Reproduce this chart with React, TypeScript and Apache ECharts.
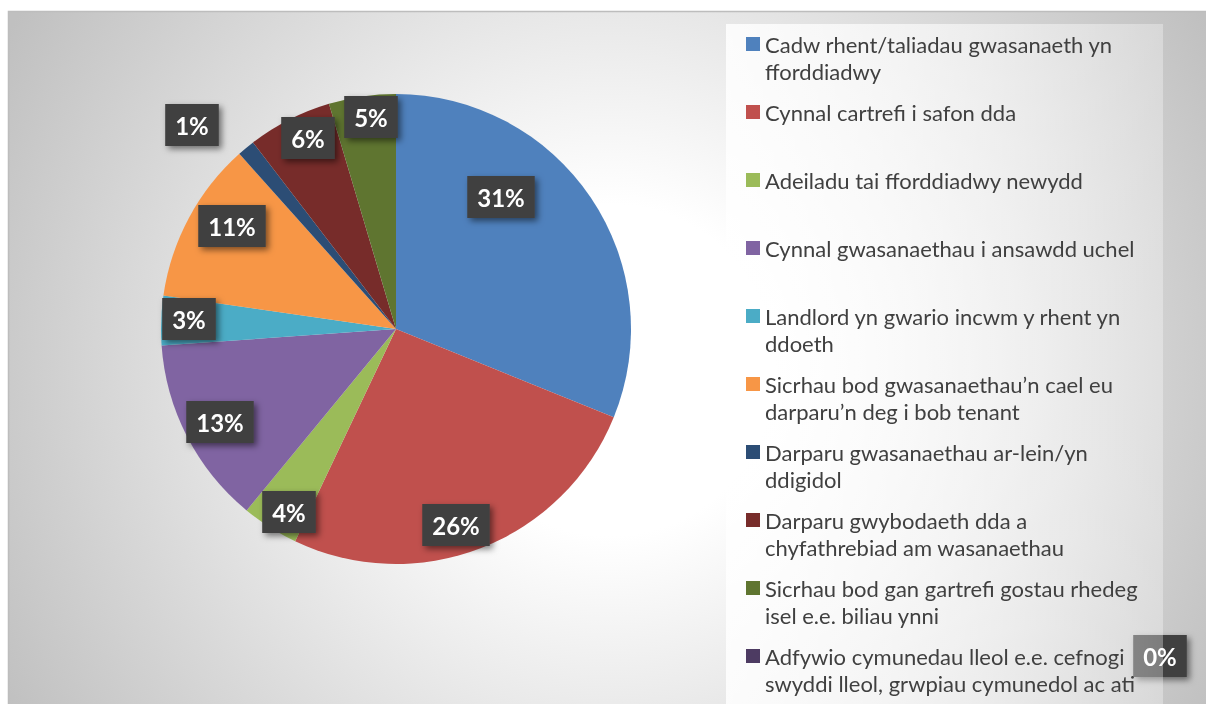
import React, { useEffect, useRef } from "react";
import * as echarts from "echarts";

const categories = [
  "Cadw rhent/taliadau gwasanaeth yn fforddiadwy",
  "Cynnal cartrefi i safon dda",
  "Adeiladu tai fforddiadwy newydd",
  "Cynnal gwasanaethau i ansawdd uchel",
  "Landlord yn gwario incwm y rhent yn ddoeth",
  "Sicrhau bod gwasanaethau’n cael eu darparu’n deg i bob tenant",
  "Darparu gwasanaethau ar-lein/yn ddigidol",
  "Darparu gwybodaeth dda a chyfathrebiad am wasanaethau",
  "Sicrhau bod gan gartrefi gostau rhedeg isel e.e. biliau ynni",
  "Adfywio cymunedau lleol e.e. cefnogi swyddi lleol, grwpiau cymunedol ac ati",
];

const values = [31.1, 25.9, 3.9, 12.9, 3.4, 11.1, 1.2, 5.8, 4.6, 0];

const legendLines = [
  ["Cadw rhent/taliadau gwasanaeth yn", "fforddiadwy"],
  ["Cynnal cartrefi i safon dda", " "],
  ["Adeiladu tai fforddiadwy newydd", " "],
  ["Cynnal gwasanaethau i ansawdd uchel", " "],
  ["Landlord yn gwario incwm y rhent yn", "ddoeth"],
  ["Sicrhau bod gwasanaethau’n cael eu", "darparu’n deg i bob tenant"],
  ["Darparu gwasanaethau ar-lein/yn", "ddigidol"],
  ["Darparu gwybodaeth dda a", "chyfathrebiad am wasanaethau"],
  ["Sicrhau bod gan gartrefi gostau rhedeg", "isel e.e. biliau ynni"],
  ["Adfywio cymunedau lleol e.e. cefnogi", "swyddi lleol, grwpiau cymunedol ac ati"],
];

const colors = [
  "#4F81BD",
  "#C0504D",
  "#9BBB59",
  "#8064A2",
  "#4BACC6",
  "#F79646",
  "#2C4D75",
  "#772C2A",
  "#5F7530",
  "#4D3B62",
];

// label box centres (layout styling)
const labelCenters = [
  [501, 197],
  [456, 525],
  [289, 512],
  [220, 422],
  [189, 319],
  [232, 226],
  [192, 125],
  [308, 138],
  [371, 117],
  [1160, 656],
];

export default function App() {
  const ref = useRef<HTMLDivElement>(null);

  useEffect(() => {
    if (!ref.current) return;
    const chart = echarts.init(ref.current, null, { renderer: "svg" });
    const option: any = {
      animation: false,
      color: colors,
      graphic: {
        elements: [
          {
            type: "rect",
            z: 0,
            silent: true,
            shape: { x: 8.5, y: 11.5, width: 1210, height: 700 },
            style: {
              fill: new echarts.graphic.RadialGradient(
                610,
                370,
                690,
                [
                  { offset: 0, color: "#ffffff" },
                  { offset: 0.24, color: "#ffffff" },
                  { offset: 1, color: "#c0c0c0" },
                ],
                true
              ),
              stroke: "#bdbdbd",
              lineWidth: 1.5,
            },
          },
          {
            type: "rect",
            z: 3,
            silent: true,
            shape: { x: 726, y: 24, width: 437, height: 690 },
            style: {
              fill: new echarts.graphic.LinearGradient(0, 0, 1, 0, [
                { offset: 0, color: "rgba(255,255,255,0.85)" },
                { offset: 1, color: "rgba(255,255,255,0.32)" },
              ]),
            },
          },
        ],
      },
      legend: {
        orient: "vertical",
        left: 746,
        top: 30.5,
        padding: 0,
        z: 4,
        itemGap: 14,
        itemWidth: 14,
        itemHeight: 41,
        selectedMode: false,
        icon: "path://M0,0 L14,0 L14,14 L0,14 Z M0,41 L0.01,41",
        itemStyle: { borderWidth: 0 },
        data: categories,
        formatter: (name: string) => {
          const i = categories.indexOf(name);
          return legendLines[i].join("\n");
        },
        textStyle: {
          fontFamily: "Lato",
          fontSize: 22,
          lineHeight: 27,
          color: "#404040",
        },
      },
      series: [
        {
          type: "pie",
          z: 2,
          center: [396, 329],
          radius: 235,
          startAngle: 90,
          clockwise: true,
          silent: true,
          avoidLabelOverlap: false,
          emphasis: { disabled: true },
          itemStyle: { borderWidth: 0 },
          data: categories.map((n, i) => ({ name: n, value: values[i] })),
          label: {
            show: true,
            position: "inside",
            formatter: (p: any) => Math.round(p.percent) + "%",
            color: "#ffffff",
            fontFamily: "Lato",
            fontWeight: "bold",
            fontSize: 24,
            lineHeight: 24,
            backgroundColor: "#404040",
            padding: [9, 10, 9, 10],
            shadowColor: "rgba(0,0,0,0.5)",
            shadowBlur: 6,
            shadowOffsetX: 3,
            shadowOffsetY: 3,
          },
          labelLine: { show: false },
          labelLayout: (p: any) => ({
            x: labelCenters[p.dataIndex][0],
            y: labelCenters[p.dataIndex][1],
            align: "center",
            verticalAlign: "middle",
          }),
        },
      ],
    };
    chart.setOption(option);
    return () => chart.dispose();
  }, []);

  return (
    <div
      ref={ref}
      style={{ position: "fixed", left: 0, top: 0, width: 1206, height: 704 }}
    />
  );
}
